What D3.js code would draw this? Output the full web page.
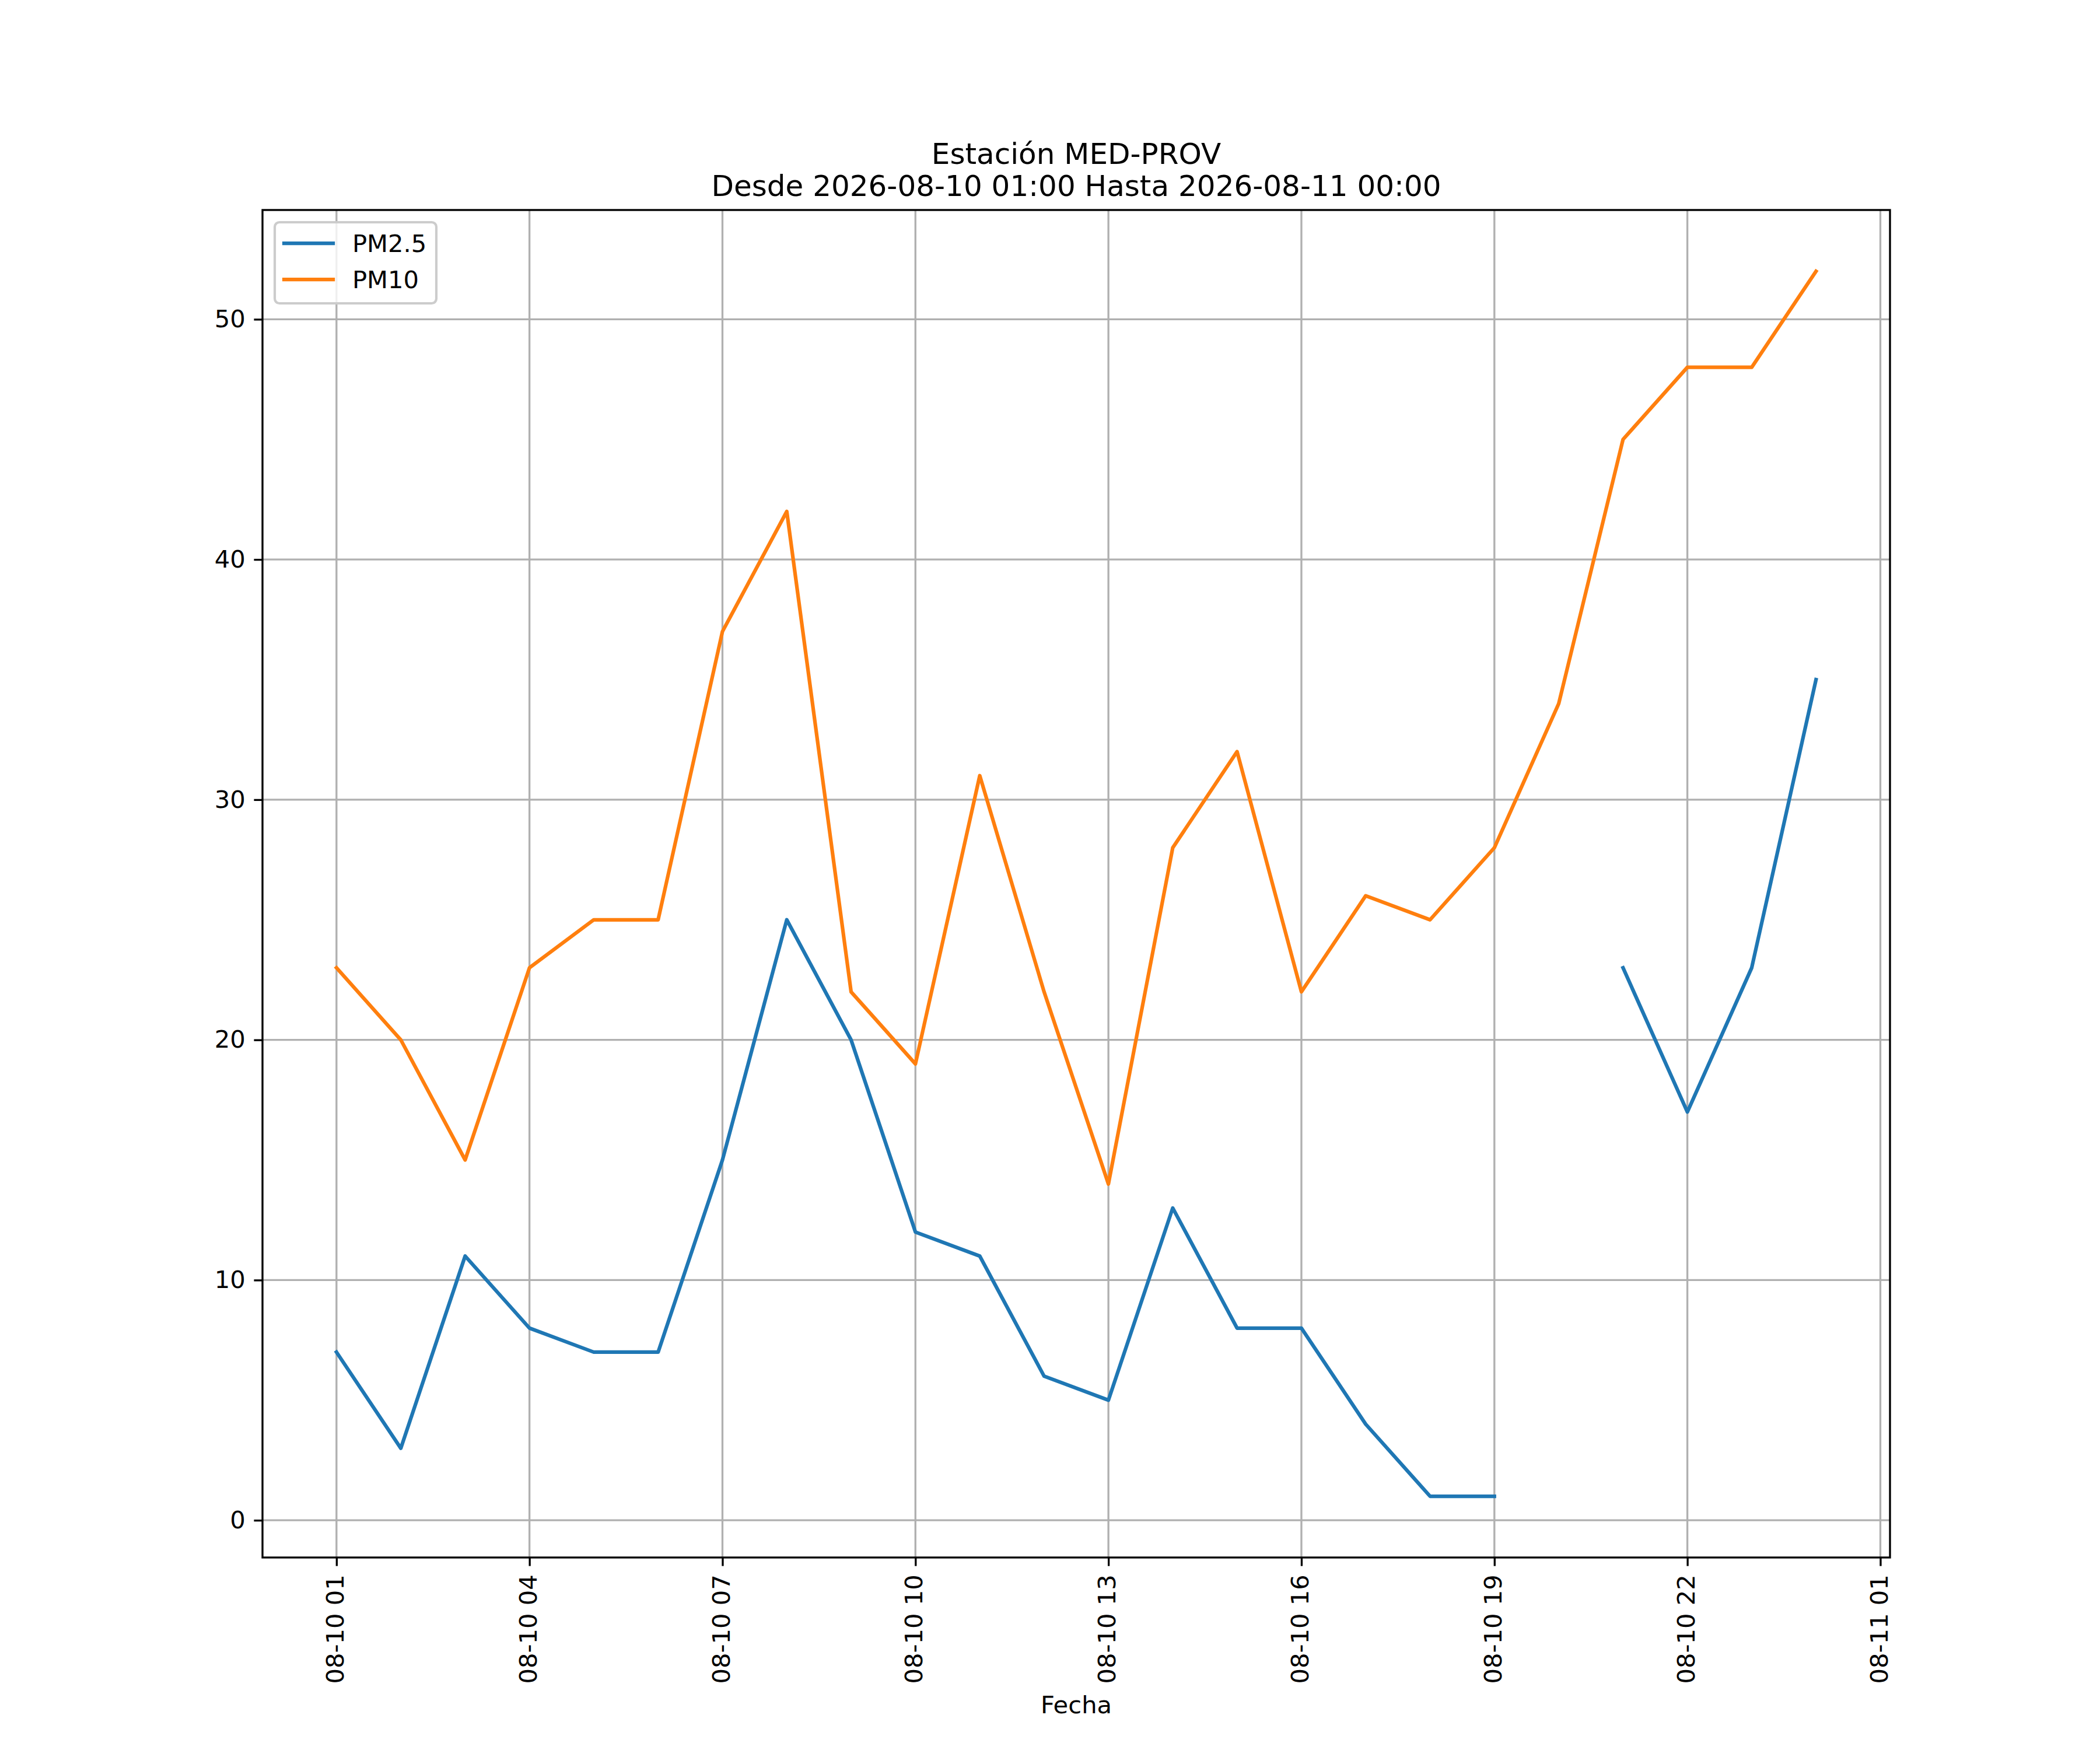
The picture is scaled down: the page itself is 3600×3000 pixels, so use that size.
<!DOCTYPE html>
<html>
<head>
<meta charset="utf-8">
<script src="https://cdn.jsdelivr.net/npm/d3@7"></script>
<style>
  html, body { margin: 0; padding: 0; background: #fff; }
  svg { display: block; }
  text { font-family: "DejaVu Sans", sans-serif; fill: #000; }
</style>
</head>
<body>
<svg id="chart" width="3600" height="3000"></svg>
<script>
// ---------- data ----------
const times = [
  "2026-08-10 01:00","2026-08-10 02:00","2026-08-10 03:00","2026-08-10 04:00",
  "2026-08-10 05:00","2026-08-10 06:00","2026-08-10 07:00","2026-08-10 08:00",
  "2026-08-10 09:00","2026-08-10 10:00","2026-08-10 11:00","2026-08-10 12:00",
  "2026-08-10 13:00","2026-08-10 14:00","2026-08-10 15:00","2026-08-10 16:00",
  "2026-08-10 17:00","2026-08-10 18:00","2026-08-10 19:00","2026-08-10 20:00",
  "2026-08-10 21:00","2026-08-10 22:00","2026-08-10 23:00","2026-08-11 00:00"
];
const pm25 = [7, 3, 11, 8, 7, 7, 15, 25, 20, 12, 11, 6, 5, 13, 8, 8, 4, 1, 1, null, 23, 17, 23, 35];
const pm10 = [23, 20, 15, 23, 25, 25, 37, 42, 22, 19, 31, 22, 14, 28, 32, 22, 26, 25, 28, 34, 45, 48, 48, 52];
const seriesNames = ["PM2.5", "PM10"];
const seriesColors = ["#1f77b4", "#ff7f0e"];
const xTickTimes = [
  "2026-08-10 01:00","2026-08-10 04:00","2026-08-10 07:00","2026-08-10 10:00",
  "2026-08-10 13:00","2026-08-10 16:00","2026-08-10 19:00","2026-08-10 22:00",
  "2026-08-11 01:00"
];
const yTicks = [0, 10, 20, 30, 40, 50];
const titleLines = ["Estación MED-PROV", "Desde 2026-08-10 01:00 Hasta 2026-08-11 00:00"];
const xLabel = "Fecha";

(function () {
// ---------- layout ----------
const W = 3600, H = 3000;
const mL = 450, mR = 3240, mT = 360, mB = 2670;
const fs = 41.67, titleFs = 50;
const lw = 6.25, gridW = 3.33, spineW = 3.33, tickLen = 14.6, tickPad = 14.6;

const parse = d3.utcParse("%Y-%m-%d %H:%M");
const fmt = d3.utcFormat("%m-%d %H");
const dates = times.map(parse);

const t0 = dates[0], t1 = dates[dates.length - 1];
const span = t1 - t0;
const x = d3.scaleUtc()
  .domain([new Date(+t0 - 0.05 * span), new Date(+t1 + 0.05 * span)])
  .range([mL, mR]);

const allVals = pm25.concat(pm10).filter(v => v != null);
const [vmin, vmax] = d3.extent(allVals);
const vr = vmax - vmin;
const y = d3.scaleLinear()
  .domain([vmin - 0.05 * vr, vmax + 0.05 * vr])
  .range([mB, mT]);

const svg = d3.select("#chart");
svg.append("rect").attr("width", W).attr("height", H).attr("fill", "#fff");

// grid
const xt = xTickTimes.map(parse);
const grid = svg.append("g");
grid.selectAll(".gx").data(xt).enter().append("line")
  .attr("x1", d => x(d)).attr("x2", d => x(d))
  .attr("y1", mT).attr("y2", mB)
  .attr("stroke", "#b0b0b0").attr("stroke-width", gridW);
grid.selectAll(".gy").data(yTicks).enter().append("line")
  .attr("x1", mL).attr("x2", mR)
  .attr("y1", d => y(d)).attr("y2", d => y(d))
  .attr("stroke", "#b0b0b0").attr("stroke-width", gridW);

// lines
const series = [pm25, pm10];
series.forEach((vals, i) => {
  const line = d3.line()
    .defined(d => d.v != null)
    .x(d => x(d.t))
    .y(d => y(d.v));
  svg.append("path")
    .datum(vals.map((v, j) => ({ t: dates[j], v })))
    .attr("d", line)
    .attr("fill", "none")
    .attr("stroke", seriesColors[i])
    .attr("stroke-width", lw)
    .attr("stroke-linejoin", "round")
    .attr("stroke-linecap", "square");
});

// axes
const xAxis = d3.axisBottom(x).tickValues(xt).tickFormat(fmt).tickSize(tickLen).tickPadding(tickPad);
const gx = svg.append("g").attr("transform", `translate(0,${mB})`).call(xAxis);
gx.select(".domain").remove();
gx.selectAll(".tick line").attr("stroke", "#000").attr("stroke-width", spineW);
gx.selectAll(".tick text")
  .attr("font-size", fs)
  .attr("font-family", "DejaVu Sans")
  .attr("transform", `translate(0,${tickLen + tickPad}) rotate(-90)`)
  .attr("x", 0).attr("y", 0).attr("dy", "0.28em")
  .attr("text-anchor", "end");

const yAxis = d3.axisLeft(y).tickValues(yTicks).tickFormat(d3.format("d")).tickSize(tickLen).tickPadding(tickPad);
const gy = svg.append("g").attr("transform", `translate(${mL},0)`).call(yAxis);
gy.select(".domain").remove();
gy.selectAll(".tick line").attr("stroke", "#000").attr("stroke-width", spineW);
gy.selectAll(".tick text").attr("font-size", fs).attr("font-family", "DejaVu Sans");

// spines
svg.append("rect")
  .attr("x", mL).attr("y", mT)
  .attr("width", mR - mL).attr("height", mB - mT)
  .attr("fill", "none").attr("stroke", "#000").attr("stroke-width", spineW);

// title
const cx = (mL + mR) / 2;
svg.append("text").attr("x", cx).attr("y", 281).attr("text-anchor", "middle")
  .attr("font-size", titleFs).text(titleLines[0]);
svg.append("text").attr("x", cx).attr("y", 336).attr("text-anchor", "middle")
  .attr("font-size", titleFs).text(titleLines[1]);

// x label
svg.append("text").attr("x", cx).attr("y", 2937).attr("text-anchor", "middle")
  .attr("font-size", fs).text(xLabel);

// legend
const lgX = 471, lgY = 381, lgW = 277, lgH = 139;
const lg = svg.append("g");
lg.append("rect")
  .attr("x", lgX).attr("y", lgY).attr("width", lgW).attr("height", lgH)
  .attr("rx", 8).attr("ry", 8)
  .attr("fill", "rgba(255,255,255,0.8)")
  .attr("stroke", "#cccccc").attr("stroke-width", 4.17);
const rowY = [417, 479];
seriesNames.forEach((name, i) => {
  lg.append("line")
    .attr("x1", 487).attr("x2", 571)
    .attr("y1", rowY[i]).attr("y2", rowY[i])
    .attr("stroke", seriesColors[i]).attr("stroke-width", lw)
    .attr("stroke-linecap", "square");
  lg.append("text")
    .attr("x", 604).attr("y", rowY[i]).attr("dy", "0.35em")
    .attr("font-size", fs).text(name);
});
})();
</script>
</body>
</html>
